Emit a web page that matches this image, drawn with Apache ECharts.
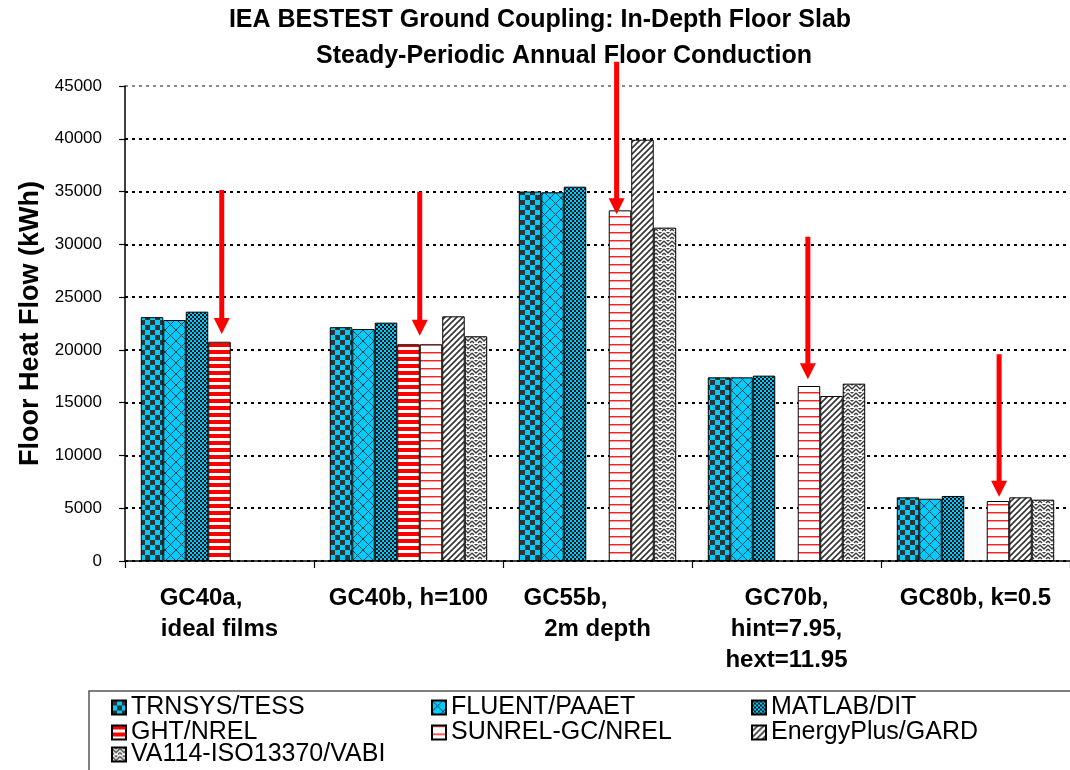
<!DOCTYPE html>
<html>
<head>
<meta charset="utf-8">
<title>IEA BESTEST Ground Coupling: In-Depth Floor Slab</title>
<script src="https://cdn.jsdelivr.net/npm/echarts@6/dist/echarts.min.js"></script>
<style>
  html, body { margin: 0; padding: 0; background: #ffffff; }
  #chart { width: 1070px; height: 770px; }
</style>
</head>
<body>
<div id="chart"></div>
<script>
// Test cases (x categories)
const categories = [
  'GC40a,\nideal films',
  'GC40b, h=100',
  'GC55b,\n2m depth',
  'GC70b,\nhint=7.95,\nhext=11.95',
  'GC80b, k=0.5'
];

// Annual floor conduction per program (kWh); null = case not run
const seriesNames = [
  'TRNSYS/TESS', 'FLUENT/PAAET', 'MATLAB/DIT',
  'GHT/NREL', 'SUNREL-GC/NREL', 'EnergyPlus/GARD',
  'VA114-ISO13370/VABI'
];
const trnsysTess      = [23100, 22150, 35000, 17400, 6030];
const fluentPaaet     = [22830, 21980, 34930, 17400, 5900];
const matlabDit       = [23620, 22580, 35460, 17560, 6160];
const ghtNrel         = [20770, 20530, null, null, null];
const sunrelGcNrel    = [null, 20530, 33220, 16580, 5680];
const energyPlusGard  = [null, 23180, 39910, 15630, 6030];
const va114Vabi       = [null, 21290, 31580, 16800, 5810];

// Y axis ticks (kWh)
const yTicks = [0, 5000, 10000, 15000, 20000, 25000, 30000, 35000, 40000, 45000];

// Highlight arrows: [case index, bar slot pointed at, start value, tip value]
const arrows = [
  [0, 3.1, 35150, 21500],
  [1, 3.5, 34970, 21350],
  [2, 3.85, 47300, 32850],
  [3, 3.95, 30730, 17220],
  [4, 4.05, 19590, 6090]
];

// Legend rows (three columns)
const legendRows = [
  ['TRNSYS/TESS', 'FLUENT/PAAET', 'MATLAB/DIT'],
  ['GHT/NREL', 'SUNREL-GC/NREL', 'EnergyPlus/GARD'],
  ['VA114-ISO13370/VABI']
];

const FONT = "'Liberation Sans', Arial, sans-serif";
const CYAN = '#00CCFF';
const CAT_GAP = 0.167;

// ---- fill patterns ----
function makeCanvas(w, h, draw) {
  const c = document.createElement('canvas');
  c.width = w; c.height = h;
  const ctx = c.getContext('2d');
  draw(ctx, w, h);
  return { image: c, repeat: 'repeat' };
}
const patterns = [
  // large checker
  makeCanvas(10, 10, (g) => {
    g.fillStyle = CYAN; g.fillRect(0, 0, 10, 10);
    g.fillStyle = '#333333'; g.fillRect(0, 0, 5, 5); g.fillRect(5, 5, 5, 5);
  }),
  // diagonal crosshatch
  makeCanvas(11, 11, (g) => {
    g.fillStyle = CYAN; g.fillRect(0, 0, 11, 11);
    g.strokeStyle = '#1c3c48'; g.lineWidth = 1;
    g.beginPath();
    g.moveTo(0, 0); g.lineTo(11, 11);
    g.moveTo(11, 0); g.lineTo(0, 11);
    g.stroke();
  }),
  // small checker
  makeCanvas(4, 4, (g) => {
    g.fillStyle = CYAN; g.fillRect(0, 0, 4, 4);
    g.fillStyle = '#111111'; g.fillRect(0, 0, 2, 2); g.fillRect(2, 2, 2, 2);
  }),
  // wide red stripes
  makeCanvas(4, 7, (g) => {
    g.fillStyle = '#ffffff'; g.fillRect(0, 0, 4, 7);
    g.fillStyle = '#ff0000'; g.fillRect(0, 0, 4, 4);
  }),
  // thin red lines
  makeCanvas(4, 8, (g) => {
    g.fillStyle = '#ffffff'; g.fillRect(0, 0, 4, 8);
    g.fillStyle = '#ff2020'; g.fillRect(0, 0, 4, 1);
    g.fillStyle = '#ff9a9a'; g.fillRect(0, 1, 4, 1);
  }),
  // upward diagonal
  makeCanvas(6, 6, (g) => {
    g.fillStyle = '#ffffff'; g.fillRect(0, 0, 6, 6);
    g.strokeStyle = '#333333'; g.lineWidth = 1.6;
    g.beginPath();
    g.moveTo(-1, 7); g.lineTo(7, -1);
    g.moveTo(-1, 1); g.lineTo(1, -1);
    g.moveTo(5, 7); g.lineTo(7, 5);
    g.stroke();
  }),
  // zigzag weave
  makeCanvas(8, 8, (g) => {
    g.fillStyle = '#ffffff'; g.fillRect(0, 0, 8, 8);
    g.strokeStyle = '#3a3a3a'; g.lineWidth = 1.4;
    g.beginPath();
    g.moveTo(0, 1); g.lineTo(4, 5); g.lineTo(8, 1);
    g.moveTo(0, 5); g.lineTo(2, 7);
    g.moveTo(6, 7); g.lineTo(8, 5);
    g.moveTo(2, -1); g.lineTo(4, 1); g.lineTo(6, -1);
    g.stroke();
  })
];

const seriesValues = [trnsysTess, fluentPaaet, matlabDit, ghtNrel, sunrelGcNrel, energyPlusGard, va114Vabi];

const barSeries = seriesNames.map((name, i) => ({
  name: name,
  type: 'bar',
  data: seriesValues[i],
  barGap: '0%',
  barCategoryGap: (CAT_GAP * 100) + '%',
  itemStyle: { color: patterns[i], borderColor: '#000000', borderWidth: 1 },
  emphasis: { disabled: true }
}));

function renderArrow(params, api) {
  const cat = api.value(0);
  const from = api.value(1);
  const to = api.value(2);
  const slot = api.value(3);
  const band = api.size([1, 0])[0];
  const groupW = band * (1 - CAT_GAP);
  const barW = groupW / seriesNames.length;
  const p0 = api.coord([cat, from]);
  const p1 = api.coord([cat, to]);
  const x = p0[0] - groupW / 2 + (slot + 0.5) * barW;
  const headLen = 16, headHalf = 8, shaftHalf = 2.5;
  return {
    type: 'group',
    children: [
      { type: 'rect', shape: { x: x - shaftHalf, y: p0[1], width: shaftHalf * 2, height: p1[1] - headLen - p0[1] + 1 },
        style: { fill: '#ff0000' } },
      { type: 'polygon', shape: { points: [[x - headHalf, p1[1] - headLen], [x + headHalf, p1[1] - headLen], [x, p1[1]]] },
        style: { fill: '#ff0000' } }
    ]
  };
}

// first-line right padding to reproduce the wrapped label placement
const firstLinePad = [37, 0, 64, 0, 0];
const labelRich = { t: { fontFamily: FONT, fontSize: 24, fontWeight: 'bold', color: '#000', lineHeight: 31 } };
firstLinePad.forEach((p, i) => {
  labelRich['p' + i] = { fontFamily: FONT, fontSize: 24, fontWeight: 'bold', color: '#000', lineHeight: 31, padding: [0, p, 0, 0] };
});

const gridColors = yTicks.map((v, i) => i === yTicks.length - 1 ? '#8a8a8a' : '#000000');
const legendTops = [695, 720, 742];

const chart = echarts.init(document.getElementById('chart'), null, { renderer: 'canvas' });
chart.setOption({
  animation: false,
  backgroundColor: '#ffffff',
  textStyle: { fontFamily: FONT },
  graphic: [
    { type: 'text', x: 540, y: 20, style: { text: 'IEA BESTEST Ground Coupling: In-Depth Floor Slab', fontFamily: FONT, fontSize: 25, fontWeight: 'bold', fill: '#000', align: 'center', verticalAlign: 'middle' } },
    { type: 'text', x: 564, y: 56, style: { text: 'Steady-Periodic Annual Floor Conduction', fontFamily: FONT, fontSize: 25, fontWeight: 'bold', fill: '#000', align: 'center', verticalAlign: 'middle' } },
    { type: 'rect', shape: { x: 89, y: 691, width: 1100, height: 200 }, style: { fill: 'none', stroke: '#555555', lineWidth: 1.5 }, z: -1 }
  ],
  legend: legendRows.map((row, r) => ({
    data: row,
    orient: 'horizontal', left: 111, top: legendTops[r], width: 1100, padding: 0, itemGap: 0,
    itemWidth: 14, itemHeight: 14, itemTextGap: 9, icon: 'rect',
    selectedMode: false,
    textStyle: { fontFamily: FONT, fontSize: 25, color: '#000', lineHeight: 24, width: 300 }
  })),
  grid: { left: 125, right: -7, top: 86, bottom: 209, containLabel: false },
  xAxis: {
    type: 'category',
    data: categories,
    axisLine: { lineStyle: { color: '#000', width: 1.5 } },
    axisTick: { show: true, length: 7, interval: 0, lineStyle: { color: '#000', width: 1.2 } },
    axisLabel: {
      interval: 0, margin: 22,
      formatter: (v, idx) => {
        const lines = v.split('\n');
        return lines.map((s, k) => k === 0 ? '{p' + idx + '|' + s + '}' : '{t|' + s + '}').join('\n');
      },
      rich: labelRich
    }
  },
  yAxis: {
    type: 'value',
    min: yTicks[0], max: yTicks[yTicks.length - 1], interval: yTicks[1] - yTicks[0],
    name: 'Floor Heat Flow (kWh)',
    nameLocation: 'middle', nameGap: 76, nameRotate: 90,
    nameTextStyle: { fontFamily: FONT, fontSize: 27, fontWeight: 'bold', color: '#000' },
    axisLine: { show: true, lineStyle: { color: '#000', width: 1.5 } },
    axisTick: { show: true, length: 6, lineStyle: { color: '#000', width: 1.2 } },
    axisLabel: { fontFamily: FONT, fontSize: 17, color: '#000', margin: 23, formatter: (v) => String(v) },
    splitLine: { show: true, lineStyle: { color: gridColors, width: 2, type: [3, 4] } }
  },
  series: barSeries.concat([{
    type: 'custom',
    name: 'arrows',
    renderItem: renderArrow,
    data: arrows.map(a => [a[0], a[2], a[3], a[1]]),
    clip: false,
    z: 10,
    silent: true
  }])
});
</script>
</body>
</html>
